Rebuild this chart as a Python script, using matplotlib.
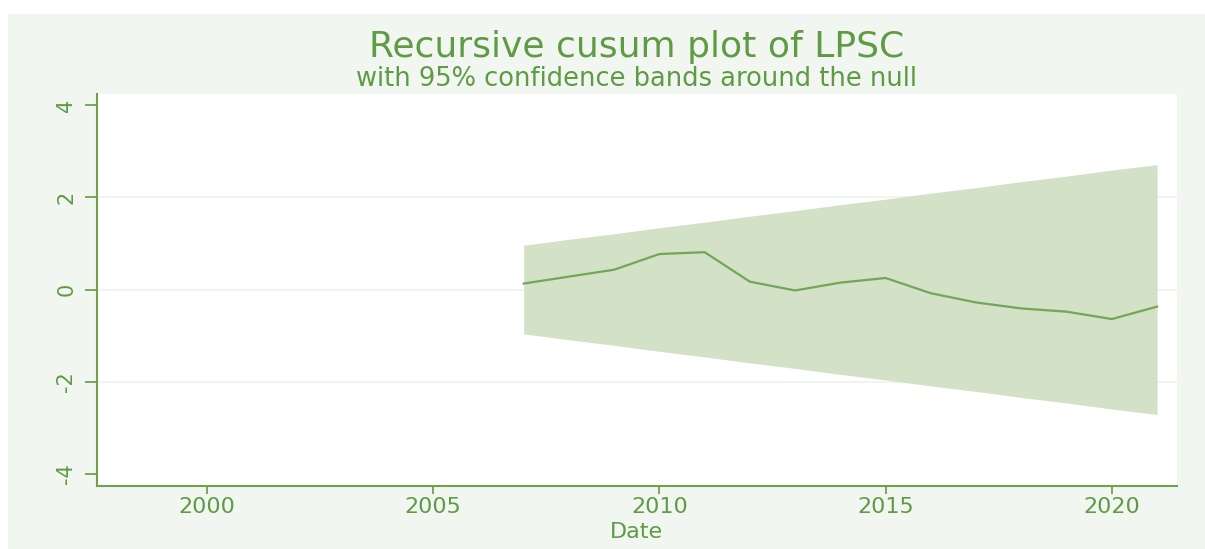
import matplotlib
matplotlib.use("Agg")
import matplotlib.pyplot as plt
from matplotlib.patches import Rectangle

# ---- data ----
years = [2007, 2008, 2009, 2010, 2011, 2012, 2013, 2014, 2015, 2016, 2017, 2018, 2019, 2020, 2021]
cusum = [0.13, 0.28, 0.43, 0.77, 0.81, 0.17, -0.02, 0.15, 0.25, -0.08, -0.28, -0.41, -0.48, -0.64, -0.37]
upper = [0.96, 1.09, 1.21, 1.34, 1.46, 1.59, 1.71, 1.84, 1.96, 2.09, 2.21, 2.34, 2.46, 2.59, 2.71]
lower = [-0.96, -1.09, -1.21, -1.34, -1.46, -1.59, -1.71, -1.84, -1.96, -2.09, -2.21, -2.34, -2.46, -2.59, -2.71]
xticks = [2000, 2005, 2010, 2015, 2020]
yticks = [-4, -2, 0, 2, 4]
title = "Recursive cusum plot of LPSC"
subtitle = "with 95% confidence bands around the null"
xlabel = "Date"

GREEN = "#5f9b45"
AXIS = "#6ea251"
BAND = "#d3e1c7"
LINE = "#72a658"
PANEL = "#f1f6f0"
GRID = "#f2f4ef"

plt.rcParams["font.family"] = ["DejaVu Sans"]

fig = plt.figure(figsize=(12.05, 5.49), dpi=100, facecolor="white")
W, H = 1205, 549
fig.patches.append(Rectangle((8 / W, 0), 1 - 8 / W, 1 - 14 / H, transform=fig.transFigure,
                             facecolor=PANEL, edgecolor="none", zorder=-5))

ax = fig.add_axes([97 / W, 1 - 486 / H, (1177 - 97) / W, (486 - 94) / H])
ax.set_zorder(1)
ax.set_facecolor("white")
ax.fill_between(years, lower, upper, color=BAND, linewidth=0, zorder=2)
ax.plot(years, cusum, color=LINE, linewidth=1.6, zorder=3)

ax.set_xlim(1997.57, 2021.44)
ax.set_ylim(-4.26, 4.24)
ax.set_xticks(xticks)
ax.set_yticks(yticks)
ax.set_xticklabels([str(v) for v in xticks])
ax.set_yticklabels([str(v) for v in yticks], rotation=90, va="center")

for y in [-2, 0, 2]:
    ax.axhline(y, color=GRID, linewidth=1.4, zorder=1)

for s in ["top", "right"]:
    ax.spines[s].set_visible(False)
for s in ["left", "bottom"]:
    ax.spines[s].set_color(AXIS)
    ax.spines[s].set_linewidth(1.5)

ax.tick_params(axis="y", length=9, width=1.3, color=AXIS, labelcolor=GREEN, labelsize=15, pad=6)
ax.tick_params(axis="x", length=6, width=1.3, color=AXIS, labelcolor=GREEN, labelsize=16, pad=2)

fig.text(637 / W, 1 - 47 / H, title, ha="center", va="center", color=GREEN, fontsize=26)
fig.text(637 / W, 1 - 79 / H, subtitle, ha="center", va="center", color=GREEN, fontsize=18.5)
fig.text(636 / W, 1 - 532 / H, xlabel, ha="center", va="center", color=GREEN, fontsize=16)

fig.savefig("out.png", dpi=100, facecolor="white")
